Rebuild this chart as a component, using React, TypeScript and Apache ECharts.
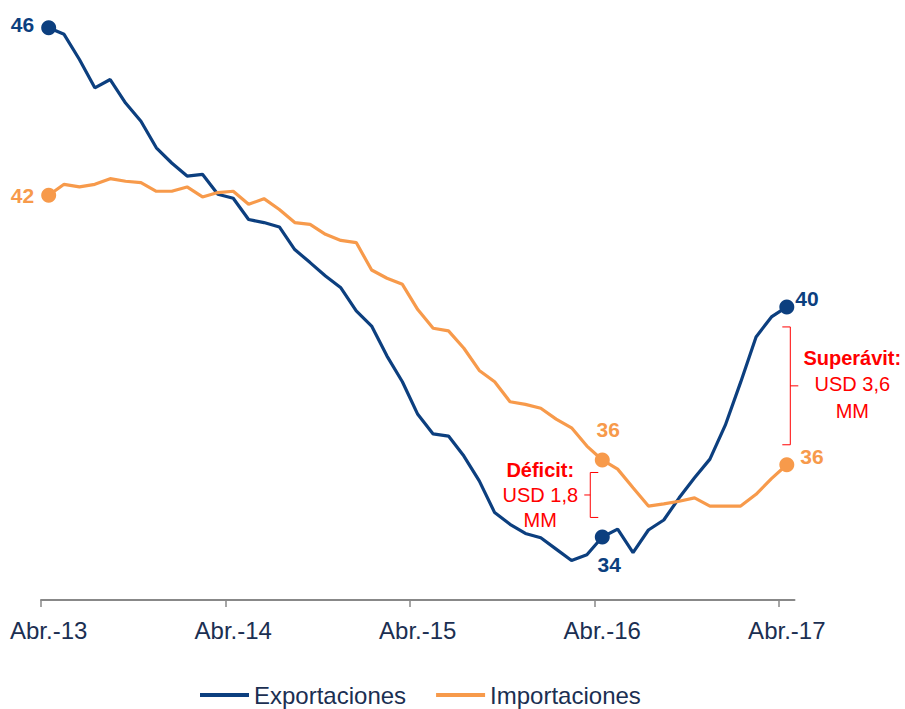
import React, { useEffect, useRef } from 'react';
import * as echarts from 'echarts';

const categories = [
  'Abr.-13', 'May.-13', 'Jun.-13', 'Jul.-13', 'Ago.-13', 'Sep.-13', 'Oct.-13', 'Nov.-13', 'Dic.-13',
  'Ene.-14', 'Feb.-14', 'Mar.-14', 'Abr.-14', 'May.-14', 'Jun.-14', 'Jul.-14', 'Ago.-14', 'Sep.-14',
  'Oct.-14', 'Nov.-14', 'Dic.-14', 'Ene.-15', 'Feb.-15', 'Mar.-15', 'Abr.-15', 'May.-15', 'Jun.-15',
  'Jul.-15', 'Ago.-15', 'Sep.-15', 'Oct.-15', 'Nov.-15', 'Dic.-15', 'Ene.-16', 'Feb.-16', 'Mar.-16',
  'Abr.-16', 'May.-16', 'Jun.-16', 'Jul.-16', 'Ago.-16', 'Sep.-16', 'Oct.-16', 'Nov.-16', 'Dic.-16',
  'Ene.-17', 'Feb.-17', 'Mar.-17', 'Abr.-17',
];

const tickLabels = ['Abr.-13', 'Abr.-14', 'Abr.-15', 'Abr.-16', 'Abr.-17'];

const exportaciones = [
  46.04, 45.89, 45.31, 44.66, 44.85, 44.31, 43.89, 43.28, 42.93, 42.63, 42.67, 42.21, 42.12,
  41.63, 41.56, 41.46, 40.94, 40.64, 40.33, 40.06, 39.53, 39.18, 38.49, 37.9, 37.15,
  36.7, 36.65, 36.19, 35.62, 34.89, 34.62, 34.41, 34.31, 34.05, 33.79, 33.92, 34.33,
  34.51, 33.97, 34.49, 34.72, 35.23, 35.69, 36.12, 36.9, 37.89, 38.93, 39.39, 39.62,
];

const importaciones = [
  42.19, 42.44, 42.38, 42.44, 42.57, 42.51, 42.48, 42.28, 42.28, 42.38, 42.15, 42.25, 42.28,
  41.98, 42.11, 41.86, 41.56, 41.52, 41.29, 41.15, 41.1, 40.47, 40.28, 40.14, 39.56,
  39.13, 39.07, 38.67, 38.16, 37.9, 37.44, 37.38, 37.29, 37.04, 36.84, 36.42, 36.1,
  35.89, 35.46, 35.04, 35.09, 35.15, 35.23, 35.04, 35.04, 35.04, 35.31, 35.67, 35.99,
];

const deficitLines = ['Déficit:', 'USD 1,8', 'MM'];
const superavitLines = ['Superávit:', 'USD 3,6', 'MM'];

const BLUE = '#0C3F7F';
const ORANGE = '#F79A4B';
const RED = '#FF0000';
const TEXT = '#1B2F52';
const AXIS = '#888888';
const FONT = '"Liberation Sans", Arial, sans-serif';

type LabelCfg = { position: string; distance: number; offset: number[] };

function buildData(values: number[], color: string, labels: Record<number, LabelCfg>) {
  return values.map((v, i) => {
    const cfg = labels[i];
    if (!cfg) return v;
    return {
      value: v,
      symbol: 'circle',
      symbolSize: 15,
      label: {
        show: true,
        position: cfg.position,
        distance: cfg.distance,
        offset: cfg.offset,
        formatter: (p: any) => String(Math.round(p.value)),
        color,
        fontSize: 21,
        fontWeight: 'bold',
        fontFamily: FONT,
      },
    };
  });
}

export default function App() {
  const ref = useRef<HTMLDivElement>(null);

  useEffect(() => {
    if (!ref.current) return;
    const chart = echarts.init(ref.current, undefined, { renderer: 'svg' });
    const isTick = (_: number, val: string) => tickLabels.includes(val);
    // month boundaries (start of each month, plus the end of the last one)
    const boundaries = [...categories, 'fin'];

    chart.setOption({
      animation: false,
      grid: { left: 41, right: 110.5, top: 13, bottom: 109 },
      legend: {
        data: ['Exportaciones', 'Importaciones'],
        left: 200,
        top: 683,
        padding: 0,
        icon: 'rect',
        itemWidth: 49,
        itemHeight: 4,
        itemGap: 30,
        textStyle: { fontSize: 24, color: TEXT, fontFamily: FONT },
      },
      xAxis: [
        {
          type: 'category',
          data: categories,
          boundaryGap: true,
          axisLine: { show: true, lineStyle: { color: AXIS, width: 2 } },
          axisTick: { show: false },
          axisLabel: {
            interval: isTick,
            margin: 18,
            fontSize: 24,
            color: TEXT,
            fontFamily: FONT,
          },
          splitLine: { show: false },
        },
        {
          type: 'category',
          data: boundaries,
          boundaryGap: false,
          position: 'bottom',
          axisLine: { show: false },
          axisLabel: { show: false },
          axisTick: {
            show: true,
            interval: (_: number, val: string) => tickLabels.includes(val),
            length: 7,
            lineStyle: { color: AXIS, width: 1.5 },
          },
          splitLine: { show: false },
        },
      ],
      yAxis: {
        type: 'value',
        min: 32.88,
        max: 46.38,
        show: false,
        splitLine: { show: false },
      },
      series: [
        {
          name: 'Exportaciones',
          type: 'line',
          symbol: 'none',
          color: BLUE,
          lineStyle: { color: BLUE, width: 3.2 },
          itemStyle: { color: BLUE },
          data: buildData(exportaciones, BLUE, {
            0: { position: 'left', distance: 7, offset: [0, -3] },
            36: { position: 'bottom', distance: 10, offset: [7, 0] },
            48: { position: 'right', distance: 1, offset: [0, -8] },
          }),
        },
        {
          name: 'Importaciones',
          type: 'line',
          symbol: 'none',
          color: ORANGE,
          lineStyle: { color: ORANGE, width: 3.2 },
          itemStyle: { color: ORANGE },
          data: buildData(importaciones, ORANGE, {
            0: { position: 'left', distance: 7, offset: [0, 0] },
            36: { position: 'top', distance: 12, offset: [6, 0] },
            48: { position: 'right', distance: 6, offset: [0, -8] },
          }),
        },
      ],
    });

    const px = (idx: number, v: number) =>
      chart.convertToPixel({ xAxisIndex: 0, yAxisIndex: 0 }, [categories[idx], v]) as number[];
    const pO36 = px(36, importaciones[36]);
    const pE36 = px(36, exportaciones[36]);
    const pE48 = px(48, exportaciones[48]);
    const pO48 = px(48, importaciones[48]);

    // Deficit bracket
    const dx = pO36[0] - 12;
    const dTop = pO36[1] + 12.5;
    const dBot = pE36[1] - 19.5;
    const dMid = (dTop + dBot) / 2;
    // Surplus bracket
    const sx = pE48[0] + 3.5;
    const sTop = pE48[1] + 20;
    const sBot = pO48[1] - 20;
    const sMid = (sTop + sBot) / 2;

    const lineStyle = { stroke: RED, lineWidth: 1, fill: null };
    const textEl = (text: string, x: number, y: number, bold: boolean) => ({
      type: 'text',
      style: {
        text,
        x,
        y,
        fill: RED,
        font: `${bold ? 'bold ' : ''}20px ${FONT}`,
        textAlign: 'center',
        textVerticalAlign: 'middle',
      },
    });

    chart.setOption({
      graphic: [
        {
          type: 'polyline',
          shape: { points: [[dx + 8, dTop], [dx, dTop], [dx, dBot], [dx + 8, dBot]] },
          style: lineStyle,
        },
        {
          type: 'line',
          shape: { x1: dx - 6, y1: dMid, x2: dx, y2: dMid },
          style: lineStyle,
        },
        textEl(deficitLines[0], dx - 50, dMid - 25, true),
        textEl(deficitLines[1], dx - 50, dMid, false),
        textEl(deficitLines[2], dx - 50, dMid + 25, false),
        {
          type: 'polyline',
          shape: { points: [[sx - 8, sTop], [sx, sTop], [sx, sBot], [sx - 8, sBot]] },
          style: lineStyle,
        },
        {
          type: 'line',
          shape: { x1: sx, y1: sMid, x2: sx + 8, y2: sMid },
          style: lineStyle,
        },
        textEl(superavitLines[0], sx + 62, sMid - 27.5, true),
        textEl(superavitLines[1], sx + 62, sMid - 1.5, false),
        textEl(superavitLines[2], sx + 62, sMid + 25, false),
      ],
    });

    return () => chart.dispose();
  }, []);

  return (
    <div
      ref={ref}
      style={{ position: 'fixed', left: 0, top: 0, width: 905, height: 709, background: '#ffffff' }}
    />
  );
}
